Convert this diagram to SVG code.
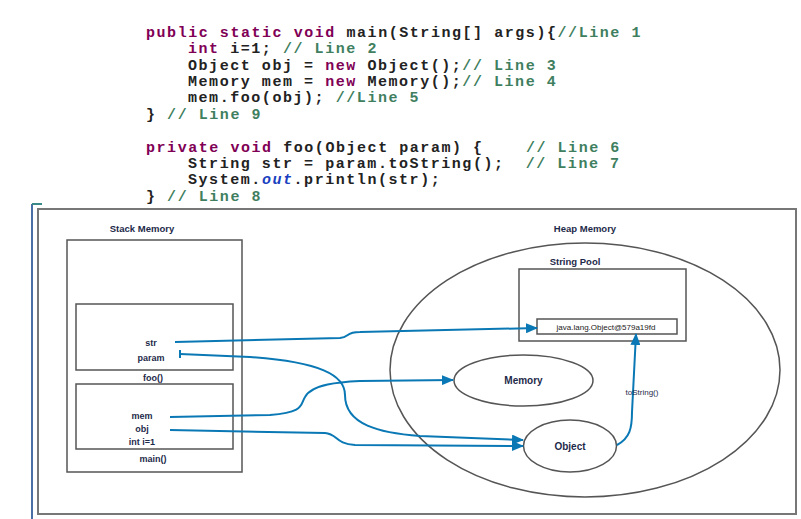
<svg xmlns="http://www.w3.org/2000/svg" width="801" height="519" viewBox="0 0 801 519">
<defs>
<style>
.code{font-family:"Liberation Mono","DejaVu Sans Mono",monospace;font-size:15px;letter-spacing:1.55px;font-weight:bold;fill:#222;white-space:pre;}
.kw{fill:#7f0055;}
.cm{fill:#3f7f5f;}
.fld{fill:#1a3fc0;font-style:italic;}
.lbl{font-family:"Liberation Sans",Arial,sans-serif;font-weight:bold;fill:#1e2a4a;text-anchor:middle;}
.box{fill:none;stroke:#555;stroke-width:1.5;}
.conn{fill:none;stroke:#0a78b4;stroke-width:2;}
</style>
<marker id="arr" markerWidth="12" markerHeight="10" refX="11" refY="5" orient="auto" markerUnits="userSpaceOnUse">
<path d="M0,0 L12,5 L0,10 Z" fill="#0a78b4"/>
</marker>
</defs>
<rect width="801" height="519" fill="#ffffff"/>
<g id="code" class="code">
<text x="146" y="37" xml:space="preserve"><tspan class="kw">public static void</tspan> main(String[] args){<tspan class="cm">//Line 1</tspan></text>
<text x="188" y="53" xml:space="preserve"><tspan class="kw">int</tspan> i=1; <tspan class="cm">// Line 2</tspan></text>
<text x="188" y="70" xml:space="preserve">Object obj = <tspan class="kw">new</tspan> Object();<tspan class="cm">// Line 3</tspan></text>
<text x="188" y="86" xml:space="preserve">Memory mem = <tspan class="kw">new</tspan> Memory();<tspan class="cm">// Line 4</tspan></text>
<text x="188" y="102" xml:space="preserve">mem.foo(obj); <tspan class="cm">//Line 5</tspan></text>
<text x="146" y="119" xml:space="preserve">} <tspan class="cm">// Line 9</tspan></text>
<text x="146" y="152" xml:space="preserve"><tspan class="kw">private void</tspan> foo(Object param) {    <tspan class="cm">// Line 6</tspan></text>
<text x="188" y="168" xml:space="preserve">String str = param.toString();  <tspan class="cm">// Line 7</tspan></text>
<text x="188" y="184" xml:space="preserve">System.<tspan class="fld">out</tspan>.println(str);</text>
<text x="146" y="201" xml:space="preserve">} <tspan class="cm">// Line 8</tspan></text>
</g>
<g id="frame">
<line x1="32" y1="204" x2="32" y2="519" stroke="#4a6fa5" stroke-width="2"/>
<line x1="32" y1="204" x2="42" y2="204" stroke="#3a8a8a" stroke-width="2"/>
<rect x="38" y="209" width="758" height="305" fill="none" stroke="#777" stroke-width="2"/>
</g>
<g id="stack">
<text class="lbl" x="142" y="232" font-size="9.5">Stack Memory</text>
<rect class="box" x="67" y="240" width="175" height="232"/>
</g>
<g id="foo">
<rect class="box" x="76" y="304" width="157" height="66"/>
<text class="lbl" x="151" y="346" font-size="9">str</text>
<text class="lbl" x="151" y="361" font-size="9">param</text>
<text class="lbl" x="153" y="380.5" font-size="9">foo()</text>
</g>
<g id="main">
<rect class="box" x="76" y="384" width="157" height="65"/>
<text class="lbl" x="142" y="419" font-size="9">mem</text>
<text class="lbl" x="142" y="432" font-size="9">obj</text>
<text class="lbl" x="142" y="444.5" font-size="9">int i=1</text>
<text class="lbl" x="153" y="462" font-size="9">main()</text>
</g>
<g id="heap">
<text class="lbl" x="585" y="232" font-size="9.5">Heap Memory</text>
<ellipse class="box" cx="585" cy="370" rx="195" ry="127"/>
</g>
<g id="stringpool">
<text class="lbl" x="575" y="265" font-size="9.5">String Pool</text>
<rect class="box" x="519" y="269" width="167" height="72"/>
</g>
<g id="strobj">
<rect class="box" x="537" y="319" width="140" height="15"/>
<text x="606" y="330" font-family="Liberation Sans,Arial,sans-serif" font-size="8" fill="#222" text-anchor="middle">java.lang.Object@579a19fd</text>
</g>
<g id="memory">
<ellipse class="box" cx="523.5" cy="380.5" rx="69.5" ry="25.5"/>
<text class="lbl" x="523.5" y="384" font-size="10" fill="#222">Memory</text>
</g>
<g id="object">
<ellipse class="box" cx="570" cy="446" rx="46.5" ry="26"/>
<text class="lbl" x="570" y="449.5" font-size="10">Object</text>
</g>
<g id="connectors">
<path class="conn" marker-end="url(#arr)" d="M175,342 L340,338 C350,337 345,332 360,332 L537,328"/>
<path class="conn" d="M180,350 L180,358"/>
<path class="conn" marker-end="url(#arr)" d="M180,354 L250,357 C320,362 345,375 345,395 C345,425 380,433 420,436 L523,440"/>
<path class="conn" marker-end="url(#arr)" d="M170,417 L270,415 C305,412 300,405 305,397 C312,384 340,382 360,381 L453,380"/>
<path class="conn" marker-end="url(#arr)" d="M170,430 L325,433 C338,434 335,444 355,445 L523,446"/>
<path class="conn" marker-end="url(#arr)" d="M617,445 C630,438 632,428 632,412 L636,334"/>
<text x="642" y="394.5" font-family="Liberation Sans,Arial,sans-serif" font-size="8" fill="#1e2a4a" text-anchor="middle">toString()</text>
</g>
</svg>
